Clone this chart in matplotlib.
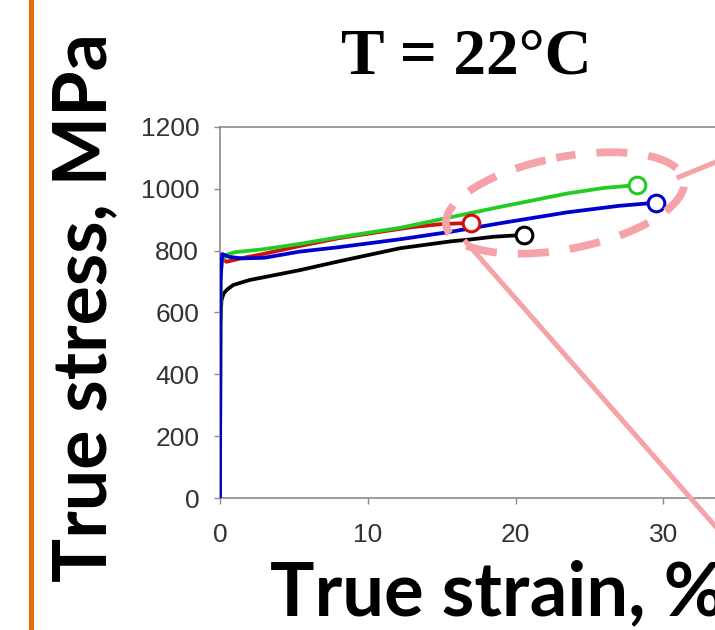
import matplotlib
matplotlib.use("Agg")
import matplotlib.pyplot as plt
from matplotlib.patches import Ellipse
from matplotlib.lines import Line2D
from matplotlib.transforms import Affine2D

# True stress-strain curves at room temperature
green_strain = [0, 0.05, 0.4, 1, 3, 5.4, 8, 12.2, 15.6, 19, 23.5, 26, 28.2]
green_stress = [0, 760, 786, 795, 805, 822, 843, 874, 908, 942, 985, 1003, 1012]

red_strain = [0, 0.03, 0.12, 0.45, 1.5, 3, 5.4, 8, 11, 13, 15, 16, 17.0]
red_stress = [0, 700, 775, 764, 776, 790, 815, 840, 862, 876, 886, 888, 889]

blue_strain = [0, 0.03, 0.15, 0.6, 1.5, 3, 5.4, 8, 12.2, 15.6, 19, 23.5, 27, 29.5]
blue_stress = [0, 700, 789, 780, 775, 777, 797, 811, 837, 861, 889, 924, 945, 955]

black_strain = [0, 0.02, 0.1, 0.25, 0.5, 0.9, 2, 5.4, 8, 12.2, 15.6, 16.9, 18.5, 20.6]
black_stress = [0, 560, 640, 662, 675, 689, 705, 737, 765, 808, 830, 836, 845, 851]

x_ticks = [0, 10, 20, 30]
y_ticks = [0, 200, 400, 600, 800, 1000, 1200]

W, H = 715, 630
fig = plt.figure(figsize=(W / 100, H / 100), dpi=100)

# pixel-space transform (origin top-left)
px = Affine2D().scale(1 / W, -1 / H).translate(0, 1) + fig.transFigure

ax = fig.add_axes([220 / W, (H - 498) / H, 591 / W, 371 / H])
ax.set_xlim(0, 40)
ax.set_ylim(0, 1200)

series = [
    (black_strain, black_stress, "black"),
    (red_strain, red_stress, "#d01010"),
    (green_strain, green_stress, "#22cc22"),
    (blue_strain, blue_stress, "#0000cc"),
]
for xs, ys, c in series:
    ax.plot(xs, ys, color=c, lw=2.7, solid_capstyle="round", zorder=3)
    ax.plot(xs[-1], ys[-1], "o", ms=12, mfc="white", mec=c, mew=2.2, zorder=4)

ax.set_xticks(x_ticks)
ax.set_yticks(y_ticks)
for s in ["left", "bottom", "top"]:
    ax.spines[s].set_color("#8a8a8a")
    ax.spines[s].set_linewidth(1.2)
ax.spines["right"].set_visible(False)
ax.tick_params(axis="both", direction="out", length=4, width=1.0, color="#8a8a8a",
               labelsize=19, labelcolor="#333333")
ax.tick_params(axis="y", pad=11)
ax.tick_params(axis="x", pad=14)
for lab in ax.get_xticklabels() + ax.get_yticklabels():
    lab.set_fontfamily("Liberation Sans")

# titles and axis captions
fig.text(466, 73, "T = 22°C", transform=px, ha="center", va="baseline",
         fontsize=47, fontweight="bold", family="Liberation Serif")
fig.text(270, 615, "True strain, %", transform=px, ha="left", va="baseline",
         fontsize=53.5, fontweight="bold", family="Lato")
fig.text(106, 582, "True stress, MPa", transform=px, ha="left", va="baseline",
         rotation=90, rotation_mode="anchor",
         fontsize=53, fontweight="bold", family="Lato")

# orange side rule
fig.add_artist(Line2D([31, 31], [0, H], transform=px, color="#e46c0a", lw=3.6))

# pink highlight around the fracture points
pink = "#f5a3a9"
fig.add_artist(Ellipse((565, 203), 242, 92, angle=-11, transform=px, fill=False,
                       edgecolor=pink, lw=5.6, linestyle=(1.5, (4.0, 2.7)), zorder=6))
fig.add_artist(Line2D([466, 716], [242, 527], transform=px, color=pink, lw=3.6, zorder=6))
fig.add_artist(Line2D([679, 716], [177, 162], transform=px, color=pink, lw=3.6, zorder=6))

fig.savefig("out.png", dpi=100)
